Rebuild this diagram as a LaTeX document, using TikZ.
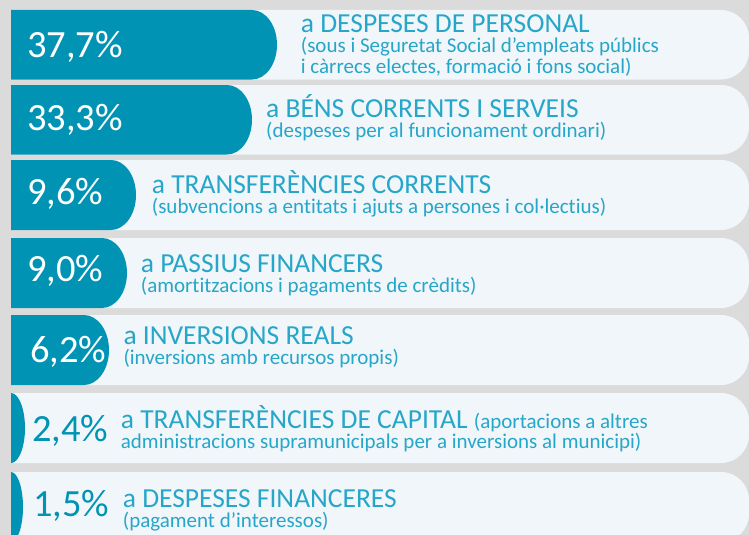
\documentclass[tikz,border=0pt]{standalone}
\usepackage{fontspec}
\setmainfont{Carlito}[Ligatures=NoCommon]
\definecolor{bgc}{HTML}{DBDBDB}
\definecolor{panelc}{HTML}{F1F6FA}
\definecolor{barc}{HTML}{0093B4}
\definecolor{labc}{HTML}{26A6C8}
\newcommand{\rowshape}[3]{%
  % #1 top, #2 bottom, #3 bar right end
  \fill[panelc] (11,#1) -- (721,#1) arc[start angle=-90,end angle=0,radius=28]
    -- (749,#2-28) arc[start angle=0,end angle=90,radius=28] -- (11,#2) -- cycle;
  \pgfmathsetmacro{\xr}{min(25,#3-11)}%
  \pgfmathsetmacro{\yr}{(#2-#1)/2}%
  \fill[barc] (11,#1) -- (#3-\xr,#1) arc[start angle=-90,end angle=90,x radius=\xr,y radius=\yr]
    -- (11,#2) -- cycle;
}
\begin{document}
\begin{tikzpicture}[x=1pt,y=-1pt,
  pct/.style={anchor=base west,inner sep=0pt,text=white,font=\fontsize{38.5}{40}\selectfont},
  pcto/.style={pct,text=barc},
  head/.style={anchor=base west,inner sep=0pt,text=labc,font=\fontsize{27.5}{30}\selectfont},
  subt/.style={anchor=base west,inner sep=0pt,text=labc,font=\fontsize{21}{22}\selectfont}]
\useasboundingbox (0,0) rectangle (749,535);
\clip (0,0) rectangle (749,535);
\fill[bgc] (0,0) rectangle (749,535);
\rowshape{10}{79.5}{277}
\rowshape{85}{154.5}{252}
\rowshape{160}{230}{136}
\rowshape{238}{308}{127}
\rowshape{315}{385}{109}
\rowshape{393}{463}{25}
\rowshape{472}{542}{23}
% row 1
\node[pct] (p1) at (27,57) {37,7\%};
\node[head] (h1) at (300.7,32.7) {a DESPESES DE PERSONAL};
\node[subt] (s1a) at (300.7,52.7) {(sous i Seguretat Social d’empleats públics};
\node[subt] (s1b) at (300.7,73.3) {i càrrecs electes, formació i fons social)};
% row 2
\node[pct] (p2) at (27,130) {33,3\%};
\node[head] (h2) at (266,117.7) {a BÉNS CORRENTS I SERVEIS};
\node[subt] (s2) at (266,137.7) {(despeses per al funcionament ordinari)};
% row 3
\node[pct] (p3) at (27,204) {9,6\%};
\node[head] (h3) at (151.7,193.3) {a TRANSFERÈNCIES CORRENTS};
\node[subt] (s3) at (151.7,213.5) {(subvencions a entitats i ajuts a persones i col·lectius)};
% row 4
\node[pct] (p4) at (27,281.7) {9,0\%};
\node[head] (h4) at (140.7,272) {a PASSIUS FINANCERS};
\node[subt] (s4) at (140.7,292) {(amortitzacions i pagaments de crèdits)};
% row 5
\node[pct] (p5) at (30,362.7) {6,2\%};
\node[head] (h5) at (123.3,344.5) {a INVERSIONS REALS};
\node[subt] (s5) at (123.3,364.5) {(inversions amb recursos propis)};
% row 6
\node[pcto] (p6) at (32,441) {2,4\%};
\node[head] (h6) at (120.7,428.3) {a TRANSFERÈNCIES DE CAPITAL {\fontsize{21}{22}\selectfont(aportacions a altres}};
\node[subt] (s6) at (120.7,448) {administracions supramunicipals per a inversions al municipi)};
% row 7
\node[pcto] (p7) at (33,516.7) {1,5\%};
\node[head] (h7) at (122.7,507.5) {a DESPESES FINANCERES};
\node[subt] (s7) at (122.7,527) {(pagament d’interessos)};
\end{tikzpicture}
\end{document}
